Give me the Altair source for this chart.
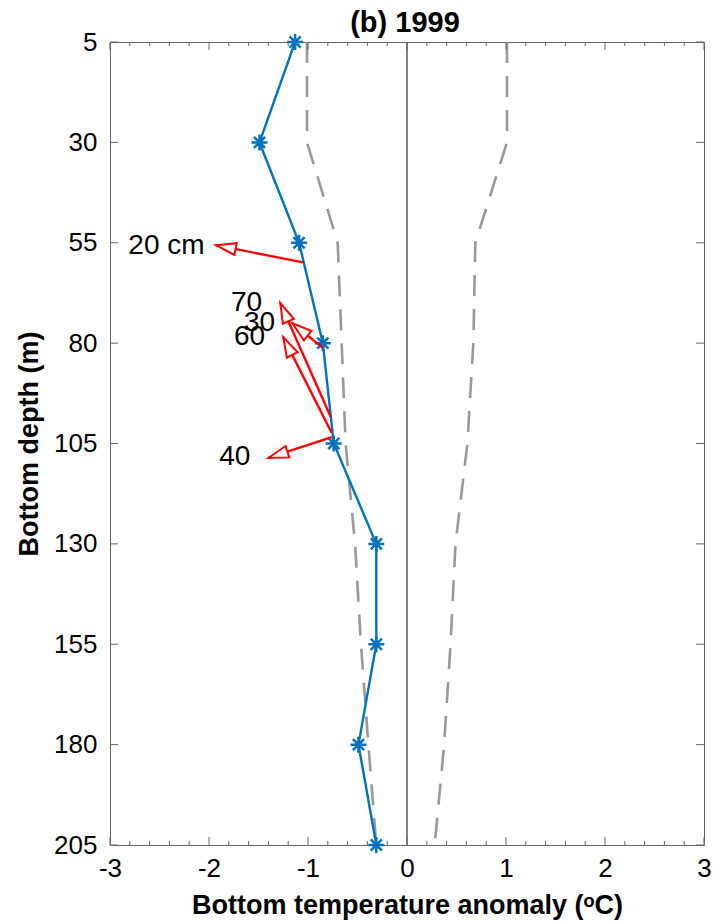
import math
import altair as alt
import pandas as pd

# ---------------- data ----------------
title_text = ["(b) 1999"]
depth = [5, 30, 55, 80, 105, 130, 155, 180, 205]
anomaly = [-1.13, -1.49, -1.09, -0.85, -0.74, -0.31, -0.31, -0.49, -0.31]
std_low = [-1.01, -1.01, -0.70, -0.66, -0.62, -0.525, -0.465, -0.39, -0.31]
std_high = [1.01, 1.01, 0.69, 0.67, 0.61, 0.49, 0.44, 0.375, 0.28]

arrow_label = ["20 cm", "70", "30", "60", "40"]
arrow_x0 = [-1.05, -0.77, -0.85, -0.76, -0.76]
arrow_d0 = [59.9, 98.4, 81.2, 102.4, 103.4]
arrow_x1 = [-1.93, -1.28, -1.16, -1.25, -1.40]
arrow_d1 = [55.6, 70.0, 75.0, 78.5, 108.6]
label_x = [-2.43, -1.62, -1.49, -1.59, -1.74]
label_d = [55.8, 70.0, 75.0, 78.5, 108.4]

x_major = [-3, -2, -1, 0, 1, 2, 3]
x_minor = [round(-3 + 0.2 * i, 1) for i in range(31) if i % 5 != 0]
y_ticks = depth

# ---------------- layout / style ----------------
W, H = 594, 803
FONT = "Liberation Sans"
BLUE = "#0072BD"
RED = "#FF0000"
GRAY = "#999999"
FRAME = "#666666"

xs = alt.Scale(domain=[-3, 3], nice=False, zero=False)
ys = alt.Scale(domain=[5, 205], reverse=True, nice=False, zero=False)

profile = pd.DataFrame({"depth": depth, "anom": anomaly})
bounds = pd.DataFrame({
    "depth": depth * 2,
    "val": std_low + std_high,
    "side": ["low"] * len(depth) + ["high"] * len(depth),
})

# arrow head orientation in pixel space
px_x = W / 6.0
px_y = H / 200.0
angles = []
for a, b, c, d in zip(arrow_x0, arrow_d0, arrow_x1, arrow_d1):
    dx = (c - a) * px_x
    dy = (d - b) * px_y
    angles.append(math.degrees(math.atan2(dx, -dy)) % 360)

arrows = pd.DataFrame({
    "label": arrow_label,
    "x0": arrow_x0, "d0": arrow_d0,
    "x1": arrow_x1, "d1": arrow_d1,
    "lx": label_x, "ld": label_d,
    "ang": angles,
})

XA = alt.Axis(
    values=x_major, labelExpr="'' + datum.value", ticks=False, domain=False, grid=False,
    labelFlush=False, labelFontSize=26, labelPadding=10, labelColor="black", labelFont=FONT,
    title="Bottom temperature anomaly (ᵒC)", titleFontSize=27, titleFontWeight="bold",
    titleFont=FONT, titleColor="black", titleBaseline="alphabetic", titleY=68,
)
YA = alt.Axis(
    values=y_ticks, ticks=False, domain=False, grid=False, labelFlush=False,
    labelFontSize=26, labelPadding=13, labelColor="black", labelFont=FONT,
    title="Bottom depth (m)", titleFontSize=27, titleFontWeight="bold",
    titleFont=FONT, titleColor="black", titleBaseline="middle", titleX=-81,
)


def X(field):
    return alt.X(field, scale=xs, axis=XA)


def Y(field):
    return alt.Y(field, scale=ys, axis=YA)


# zero line
zero = alt.Chart(pd.DataFrame({"z": [0]})).mark_rule(color="#333333", strokeWidth=1.2).encode(
    x=X("z:Q"), y=alt.value(0), y2=alt.value(H),
)

# std bounds (dashed)
dash = alt.Chart(bounds).mark_line(color=GRAY, strokeWidth=2.6, strokeDash=[21, 13]).encode(
    x=X("val:Q"), y=Y("depth:Q"), detail="side:N", order="depth:Q",
)

# profile line + asterisk markers
line = alt.Chart(profile).mark_line(color=BLUE, strokeWidth=2.4).encode(
    x=X("anom:Q"), y=Y("depth:Q"), order="depth:Q",
)
STAR = "M0,-1L0,1M-1,0L1,0M-0.7,-0.7L0.7,0.7M-0.7,0.7L0.7,-0.7"
stars = alt.Chart(profile).mark_point(
    shape=STAR, size=256, color=BLUE, strokeWidth=2.5, filled=False, opacity=1
).encode(x=X("anom:Q"), y=Y("depth:Q"))

# current arrows
shafts = alt.Chart(arrows).mark_rule(color=RED, strokeWidth=2.4).encode(
    x=X("x0:Q"), x2="x1:Q", y=Y("d0:Q"), y2="d1:Q",
)
HEAD = "M0,0L0.6,2L-0.6,2Z"
heads = alt.Chart(arrows).mark_point(
    shape=HEAD, size=400, filled=True, fill="white", stroke=RED, strokeWidth=2, opacity=1
).encode(
    x=X("x1:Q"), y=Y("d1:Q"), angle=alt.Angle("ang:Q", scale=None),
)
labels = alt.Chart(arrows).mark_text(
    font=FONT, fontSize=28, color="black", align="center", baseline="middle"
).encode(x=X("lx:Q"), y=Y("ld:Q"), text="label:N")

# chart title as a text mark above the plot area
title = alt.Chart(pd.DataFrame({"t": title_text})).mark_text(
    font=FONT, fontSize=29, fontWeight="bold", color="black",
    align="center", baseline="alphabetic",
).encode(text="t:N", x=alt.value(W / 2 - 2), y=alt.value(-10))


# inward ticks
def xticks(vals, length, top):
    df = pd.DataFrame({"t": vals})
    if top:
        yy, yy2 = alt.value(0), alt.value(length)
    else:
        yy, yy2 = alt.value(H), alt.value(H - length)
    return alt.Chart(df).mark_rule(color=FRAME, strokeWidth=1).encode(
        x=X("t:Q"), y=yy, y2=yy2)


def yticks(vals, length, right):
    df = pd.DataFrame({"t": vals})
    if right:
        xx, xx2 = alt.value(W - length), alt.value(W)
    else:
        xx, xx2 = alt.value(0), alt.value(length)
    return alt.Chart(df).mark_rule(color=FRAME, strokeWidth=1).encode(
        y=Y("t:Q"), x=xx, x2=xx2)


tick_layers = [
    xticks(x_major, 8, False), xticks(x_minor, 4, False),
    xticks(x_major, 8, True), xticks(x_minor, 4, True),
    yticks(y_ticks, 8, False), yticks(y_ticks, 8, True),
]

chart = alt.layer(
    zero, dash, line, stars, shafts, heads, labels, title, *tick_layers
).properties(
    width=W, height=H,
    background="white",
    autosize=alt.AutoSizeParams(type="none"),
    padding={"left": 110, "top": 42, "right": 10, "bottom": 78},
).configure_view(
    stroke=FRAME, strokeWidth=1
)

chart.save("out.html", embed_options={"renderer": "svg", "actions": False})
